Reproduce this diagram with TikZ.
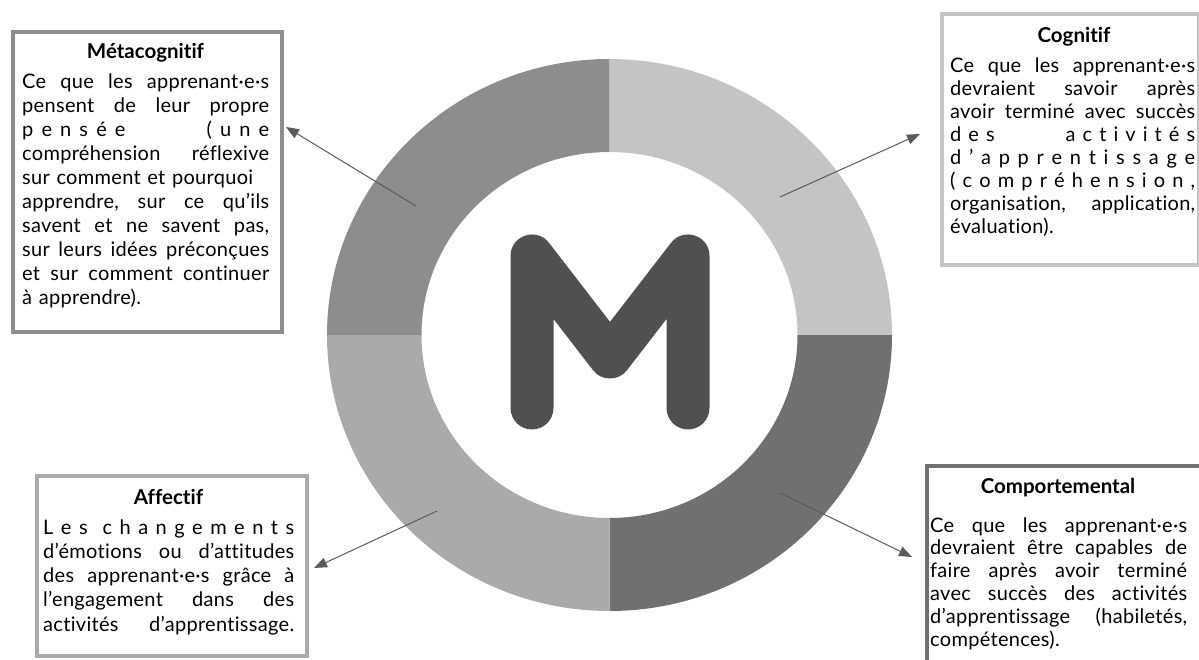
\documentclass[tikz,border=0pt]{standalone}
\usepackage{fontspec}
\setmainfont{Lato}[Ligatures={NoCommon}]
\newfontfamily\bodyfont{Lato}[Ligatures={NoCommon}, LetterSpace=1.5]
\usetikzlibrary{arrows.meta}

\definecolor{qmeta}{HTML}{8D8D8D}
\definecolor{qcog}{HTML}{C4C4C4}
\definecolor{qcomp}{HTML}{707070}
\definecolor{qaff}{HTML}{AAAAAA}
\definecolor{mgray}{HTML}{505050}
\definecolor{arrowgray}{HTML}{5A5A5A}

% one justified line of a text block
\newcommand\jline[1]{\hbox to\linewidth{#1}}

\tikzset{
  panel/.style={draw=#1, line width=4pt, fill=white, anchor=north west, inner sep=0pt},
  heading/.style={anchor=base, inner sep=0pt, font=\fontsize{20.5}{23}\selectfont\bfseries},
  bodytext/.style={anchor=base west, inner sep=0pt, text width=#1, align=left},
  pointer/.style={draw=arrowgray, line width=1pt, -{Triangle[length=13pt,width=10pt]}}
}

\begin{document}
\begin{tikzpicture}[x=1pt,y=-1pt]
\useasboundingbox (0,0) rectangle (1199,660);
\clip (0,0) rectangle (1199,660);

% ring quadrants
\coordinate (c) at (609.5,335);
\foreach \col/\qx/\qy in {qmeta/300/40, qcog/920/40, qcomp/920/640, qaff/300/640}{
  \begin{scope}
    \clip (c) rectangle (\qx,\qy);
    \fill[\col, even odd rule] (c) ellipse [x radius=282.5pt, y radius=276pt]
                               (c) ellipse [x radius=188pt, y radius=183pt];
  \end{scope}
}

% central letter
\draw[mgray, line width=43pt, line cap=round, line join=round]
  (532,408) -- (532,256) -- (610,357) -- (688,256) -- (688,408);

% text panels
\node[panel=qmeta, minimum width=269pt, minimum height=300pt] (meta) at (11,30) {};
\node[panel=qcog, minimum width=257pt, minimum height=251pt] (cog) at (940,12) {};
\node[panel=qcomp, minimum width=280pt, minimum height=220pt] (comp) at (925,464) {};
\node[panel=qaff, minimum width=270pt, minimum height=180pt] (aff) at (35,474) {};

\node[heading] (meta-title) at (145.5,59) {Métacognitif};
\node[bodytext=247pt, font=\bodyfont\fontsize{20}{24}\selectfont] (meta-body) at (22,89) {%
\jline{Ce\hfill que\hfill les\hfill apprenant·e·s}\par
\jline{pensent\hfill de\hfill leur\hfill propre}\par
\jline{p\hfill e\hfill n\hfill s\hfill é\hfill e\hskip0pt plus 10fill (\hfill u\hfill n\hfill e}\par
\jline{compréhension\hfill réflexive}\par
\jline{sur comment et pourquoi\hfill}\par
\jline{apprendre,\hfill sur\hfill ce\hfill qu’ils}\par
\jline{savent\hfill et\hfill ne\hfill savent\hfill pas,}\par
\jline{sur\hfill leurs\hfill idées\hfill préconçues}\par
\jline{et\hfill sur\hfill comment\hfill continuer}\par
\jline{à apprendre).\hfill}};

\node[heading] (cog-title) at (1074,43) {Cognitif};
\node[bodytext=245pt, font=\bodyfont\fontsize{20}{22.9}\selectfont] (cog-body) at (950,73) {%
\jline{Ce\hfill que\hfill les\hfill apprenant·e·s}\par
\jline{devraient\hfill savoir\hfill après}\par
\jline{avoir\hfill terminé\hfill avec\hfill succès}\par
\jline{d\hfill e\hfill s\hskip0pt plus 10fill a\hfill c\hfill t\hfill i\hfill v\hfill i\hfill t\hfill é\hfill s}\par
\jline{d\hfill ’\hfill a\hfill p\hfill p\hfill r\hfill e\hfill n\hfill t\hfill i\hfill s\hfill s\hfill a\hfill g\hfill e}\par
\jline{(\hfill c\hfill o\hfill m\hfill p\hfill r\hfill é\hfill h\hfill e\hfill n\hfill s\hfill i\hfill o\hfill n\hfill ,}\par
\jline{organisation,\hfill application,}\par
\jline{évaluation).\hfill}};

\node[heading] (comp-title) at (1058,493) {Comportemental};
\node[bodytext=257pt, font=\bodyfont\fontsize{20}{22.8}\selectfont] (comp-body) at (930,532) {%
\jline{Ce\hfill que\hfill les\hfill apprenant·e·s}\par
\jline{devraient\hfill être\hfill capables\hfill de}\par
\jline{faire\hfill après\hfill avoir\hfill terminé}\par
\jline{avec\hfill succès\hfill des\hfill activités}\par
\jline{d’apprentissage\hfill (habiletés,}\par
\jline{compétences).\hfill}};

\node[heading] (aff-title) at (168.5,504) {Affectif};
\node[bodytext=251pt, font=\bodyfont\fontsize{20}{24.3}\selectfont] (aff-body) at (43,534) {%
\jline{L\hfill e\hfill s\hskip0pt plus 2fill c\hfill h\hfill a\hfill n\hfill g\hfill e\hfill m\hfill e\hfill n\hfill t\hfill s}\par
\jline{d’émotions\hfill ou\hfill d’attitudes}\par
\jline{des\hfill apprenant·e·s\hfill grâce\hfill à}\par
\jline{l’engagement\hfill dans\hfill des}\par
\jline{activités\hskip 6pt plus 1fill d’apprentissage.}};

% pointers from the ring to the panels
\coordinate (meta-from) at (416,206);
\coordinate (meta-to) at (286,127);
\coordinate (cog-from) at (780,197);
\coordinate (cog-to) at (920,134);
\coordinate (comp-from) at (780,493);
\coordinate (comp-to) at (912,557);
\coordinate (aff-from) at (437,511);
\coordinate (aff-to) at (314,568);
\draw[pointer] (meta-from) -- (meta-to);
\draw[pointer] (cog-from) -- (cog-to);
\draw[pointer] (comp-from) -- (comp-to);
\draw[pointer] (aff-from) -- (aff-to);
\end{tikzpicture}
\end{document}
